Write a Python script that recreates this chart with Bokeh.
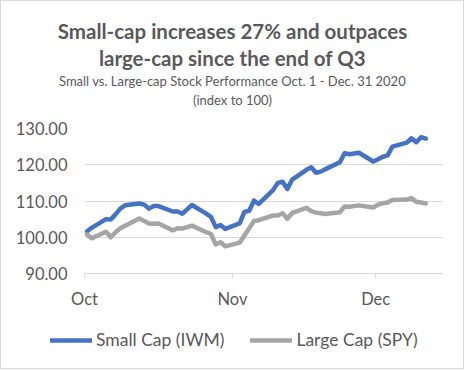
import pandas as pd
from bokeh.plotting import figure
from bokeh.models import (Range1d, FixedTicker, NumeralTickFormatter, DatetimeTickFormatter,
                          Legend, LegendItem, Label, ColumnDataSource)
from bokeh.embed import file_html
from bokeh.resources import INLINE

dates = ["2020-10-01", "2020-10-02", "2020-10-05", "2020-10-06", "2020-10-07", "2020-10-08",
         "2020-10-09", "2020-10-12", "2020-10-13", "2020-10-14", "2020-10-15", "2020-10-16",
         "2020-10-19", "2020-10-20", "2020-10-21", "2020-10-22", "2020-10-23", "2020-10-26",
         "2020-10-27", "2020-10-28", "2020-10-29", "2020-10-30", "2020-11-02", "2020-11-03",
         "2020-11-04", "2020-11-05", "2020-11-06", "2020-11-09", "2020-11-10", "2020-11-11",
         "2020-11-12", "2020-11-13", "2020-11-16", "2020-11-17", "2020-11-18", "2020-11-19",
         "2020-11-20", "2020-11-23", "2020-11-24", "2020-11-25", "2020-11-27", "2020-11-30",
         "2020-12-01", "2020-12-02", "2020-12-03", "2020-12-04", "2020-12-07", "2020-12-08",
         "2020-12-09", "2020-12-10", "2020-12-11"]

small_cap = [101.6, 102.6, 105.0, 104.9, 106.3, 107.9, 108.8, 109.3, 109.0, 107.9, 108.6, 108.6,
             107.1, 107.1, 106.5, 107.7, 108.9, 106.5, 105.6, 102.8, 103.4, 102.3, 103.8, 107.0,
             107.3, 110.1, 109.2, 113.0, 115.0, 115.3, 113.3, 115.9, 118.6, 119.3, 117.8, 118.1,
             118.8, 120.7, 123.2, 122.9, 123.3, 120.9, 121.5, 122.2, 122.6, 125.0, 126.1, 127.3,
             126.2, 127.6, 127.2]

large_cap = [100.8, 99.7, 101.5, 100.0, 101.4, 102.5, 103.2, 105.2, 104.5, 103.8, 103.7, 103.8,
             101.9, 102.5, 102.4, 102.8, 103.2, 101.4, 100.9, 98.0, 98.6, 97.5, 98.5, 100.5,
             102.5, 104.5, 104.7, 106.0, 106.0, 106.6, 105.1, 106.7, 108.1, 107.2, 106.8, 106.6,
             106.4, 106.9, 108.5, 108.4, 108.8, 108.2, 109.0, 109.4, 109.6, 110.3, 110.4, 110.8,
             109.8, 109.6, 109.3]

series_names = ["Small Cap (IWM)", "Large Cap (SPY)"]
series_colors = ["#4472C4", "#A5A5A5"]
y_ticks = [90, 100, 110, 120, 130]
month_ticks = ["2020-10-01", "2020-11-01", "2020-12-01"]
axis_end = "2020-12-15"

title_lines = ["Small-cap increases 27% and outpaces", "large-cap since the end of Q3"]
subtitle_lines = ["Small vs. Large-cap Stock Performance Oct. 1 - Dec. 31 2020", "(index to 100)"]

FONT = "Lato"
TEXT = "#595959"
GRID = "#d9d9d9"
EDGE = "1px solid #d9d9d9"
W = 464
TITLE_H = 116
MAIN_H = 199
LEG_H = 54


def blank(height):
    f = figure(width=W, height=height, output_backend="svg", toolbar_location=None,
               x_range=Range1d(0, W), y_range=Range1d(height, 0),
               x_axis_location=None, y_axis_location=None,
               min_border_left=0, min_border_right=0, min_border_top=0, min_border_bottom=0)
    f.title = None
    f.outline_line_color = None
    f.grid.visible = False
    f.background_fill_color = "white"
    f.border_fill_color = "white"
    return f


# ---- title block ----
tf = blank(TITLE_H)
for txt, yy, fs, style in [(title_lines[0], 29, "20.5px", "bold"),
                           (title_lines[1], 56, "20.5px", "bold"),
                           (subtitle_lines[0], 79, "13px", "normal"),
                           (subtitle_lines[1], 98, "13px", "normal")]:
    tf.add_layout(Label(x=231, y=yy, text=txt, text_align="center", text_baseline="alphabetic",
                        text_font=FONT, text_font_size=fs, text_font_style=style,
                        text_color=TEXT))
tf.styles = {"border-top": EDGE, "border-left": EDGE, "border-right": EDGE}

# ---- main chart ----
x = pd.to_datetime(dates) + pd.Timedelta(hours=12)
src = ColumnDataSource(dict(x=x, small=small_cap, large=large_cap))

p = figure(width=W, height=MAIN_H, output_backend="svg", toolbar_location=None,
           x_axis_type="datetime",
           x_range=Range1d(pd.Timestamp(month_ticks[0]), pd.Timestamp(axis_end)),
           y_range=Range1d(y_ticks[0], y_ticks[-1]),
           min_border_left=83, min_border_right=23, min_border_top=12, min_border_bottom=42)
p.title = None
p.outline_line_color = None
p.background_fill_color = "white"
p.border_fill_color = "white"
p.styles = {"border-left": EDGE, "border-right": EDGE}

p.line("x", "small", source=src, line_color=series_colors[0], line_width=4.5,
       line_cap="round", line_join="round")
p.line("x", "large", source=src, line_color=series_colors[1], line_width=4.5,
       line_cap="round", line_join="round")

p.yaxis.ticker = FixedTicker(ticks=y_ticks)
p.yaxis.formatter = NumeralTickFormatter(format="0.00")
p.yaxis.axis_line_color = None
p.yaxis.major_tick_line_color = None
p.yaxis.minor_tick_line_color = None
p.yaxis.major_tick_out = 0
p.yaxis.major_tick_in = 0
p.yaxis.major_label_standoff = 17
p.yaxis.major_label_text_font = FONT
p.yaxis.major_label_text_font_size = "16.5px"
p.yaxis.major_label_text_color = TEXT

tick_ms = [pd.Timestamp(d).value // 10**6 for d in month_ticks]
p.xaxis.ticker = FixedTicker(ticks=tick_ms)
p.xaxis.formatter = DatetimeTickFormatter(days="%b", months="%b", years="%b", hours="%b")
p.xaxis.axis_line_color = GRID
p.xaxis.major_tick_line_color = GRID
p.xaxis.minor_tick_line_color = None
p.xaxis.major_tick_out = 5
p.xaxis.major_tick_in = 0
p.xaxis.major_label_standoff = 10
p.xaxis.major_label_text_font = FONT
p.xaxis.major_label_text_font_size = "16.5px"
p.xaxis.major_label_text_color = TEXT

p.xgrid.grid_line_color = None
p.ygrid.ticker = FixedTicker(ticks=y_ticks)
p.ygrid.grid_line_color = GRID
p.ygrid.grid_line_width = 1

# ---- legend block (swatches styled like the series, no data drawn) ----
lf = blank(LEG_H)
proxy = [lf.line(x=[float("nan")], y=[float("nan")], line_color=c, line_width=4.5,
                 line_cap="round") for c in series_colors]
legend = Legend(items=[LegendItem(label=n, renderers=[r]) for n, r in zip(series_names, proxy)],
                orientation="horizontal", location=(49, 19),
                label_text_font=FONT, label_text_font_size="17.5px", label_text_color=TEXT,
                glyph_width=42, glyph_height=18, label_standoff=4, spacing=26,
                border_line_color=None, background_fill_alpha=0, padding=4, margin=0)
lf.add_layout(legend, "center")
lf.styles = {"border-bottom": EDGE, "border-left": EDGE, "border-right": EDGE}

open("out.html", "w").write(file_html([tf, p, lf], INLINE))
